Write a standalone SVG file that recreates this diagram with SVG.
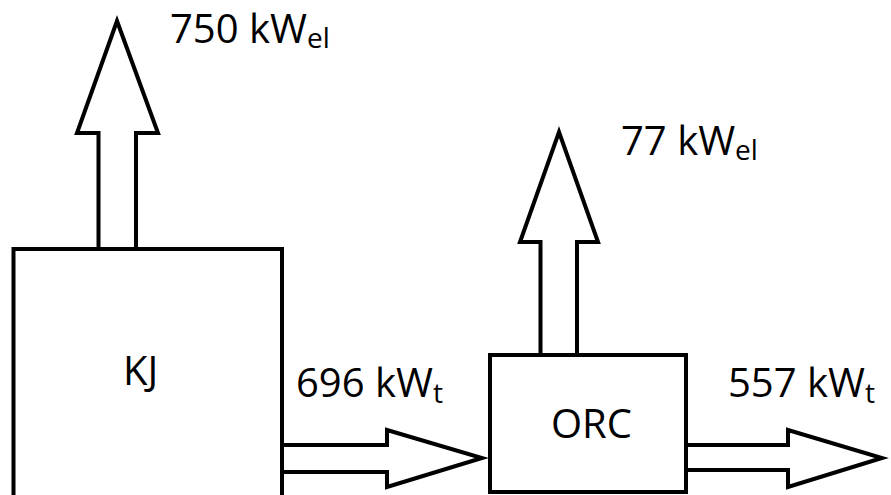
<svg xmlns="http://www.w3.org/2000/svg" width="891" height="495" viewBox="0 0 891 495">
  <style>
    .box { fill: #ffffff; stroke: #000000; stroke-width: 4; }
    .arrow { fill: #ffffff; stroke: #000000; stroke-width: 4; stroke-linejoin: miter; stroke-miterlimit: 10; }
    .lbl { font-family: "Open Sans", "Liberation Sans", Arial, sans-serif; font-size: 40px; fill: #000000; }
    .sub { font-size: 28px; }
  </style>
  <rect x="0" y="0" width="891" height="495" fill="#ffffff"/>
  <g id="connectors">
    <polyline class="arrow" points="98.5,249 98.5,133 77,133 117,21 158,133 136,133 136,249"/>
    <polyline class="arrow" points="540.5,355 540.5,242 520,242 559,132 598,242 577,242 577,355"/>
    <polyline class="arrow" points="282,445 387,445 387,430 482,458 387,487 387,472 282,472"/>
    <polyline class="arrow" points="686,445 788,445 788,430 882,458 788,487 788,470 686,470"/>
  </g>
  <g id="node-KJ">
    <rect class="box" x="13.5" y="249" width="268.5" height="270"/>
    <text class="lbl" x="123" y="385">KJ</text>
  </g>
  <g id="node-ORC">
    <rect class="box" x="490" y="355" width="196" height="137"/>
    <text class="lbl" x="551" y="438">ORC</text>
  </g>
  <g id="labels">
    <text class="lbl" x="170" y="43">750 kW<tspan class="sub" dy="5">el</tspan></text>
    <text class="lbl" x="621" y="155">77 kW<tspan class="sub" dy="5">el</tspan></text>
    <text class="lbl" x="296" y="397">696 kW<tspan class="sub" dy="6">t</tspan></text>
    <text class="lbl" x="728" y="397">557 kW<tspan class="sub" dy="6">t</tspan></text>
  </g>
</svg>
